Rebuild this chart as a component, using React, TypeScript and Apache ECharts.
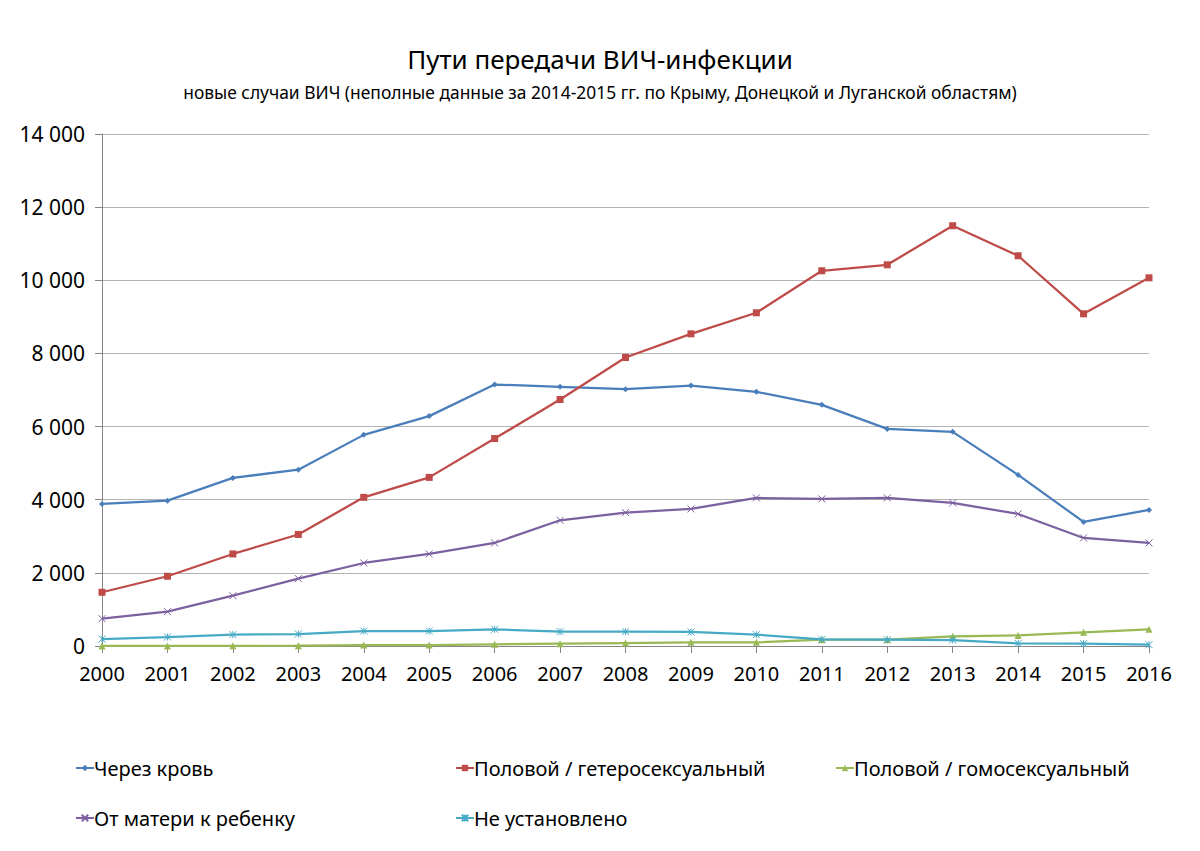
import React, { useEffect, useRef } from "react";
import * as echarts from "echarts";

const years = ["2000", "2001", "2002", "2003", "2004", "2005", "2006", "2007", "2008", "2009", "2010", "2011", "2012", "2013", "2014", "2015", "2016"];

const seriesNames = [
  "Через кровь",
  "Половой / гетеросексуальный",
  "Половой / гомосексуальный",
  "От матери к ребенку",
  "Не установлено",
];

const blood = [3885, 3975, 4596, 4822, 5773, 6286, 7150, 7086, 7023, 7122, 6950, 6594, 5937, 5855, 4679, 3393, 3721];
const hetero = [1469, 1907, 2517, 3050, 4065, 4610, 5672, 6739, 7888, 8536, 9111, 10260, 10424, 11491, 10670, 9083, 10068];
const homo = [2, 3, 5, 8, 27, 27, 46, 64, 82, 100, 100, 172, 172, 265, 290, 375, 457];
const mother = [748, 939, 1376, 1842, 2270, 2517, 2818, 3438, 3648, 3748, 4049, 4022, 4049, 3912, 3611, 2955, 2818];
const unknown = [190, 246, 310, 328, 410, 410, 457, 392, 392, 383, 310, 183, 172, 164, 73, 64, 36];

const yTicks = { min: 0, max: 14000, interval: 2000 };

const colors = ["#4a7ebb", "#be4b48", "#98b954", "#7d60a0", "#46aac5"];

const FONT = "'Noto Sans', sans-serif";

// stroked marker shapes: an "x" and an asterisk
const crossPath = "path://M0,0L10,10M10,0L0,10";
const starPath = "path://M0,0L10,10M10,0L0,10M5,0L5,10";

export default function App() {
  const ref = useRef<HTMLDivElement>(null);

  useEffect(() => {
    if (!ref.current) return;
    const chart = echarts.init(ref.current, undefined, { renderer: "svg" });

    const values = [blood, hetero, homo, mother, unknown];
    const symbols = ["diamond", "rect", "triangle", crossPath, starPath];
    const symbolSizes = [6, 7, 7, 7, 7];

    const series = values.map((data, i) => {
      const stroked = i >= 3;
      return {
        name: seriesNames[i],
        type: "line",
        data,
        symbol: symbols[i],
        symbolSize: symbolSizes[i],
        showSymbol: true,
        lineStyle: { color: colors[i], width: 2.25 },
        itemStyle: stroked
          ? { color: "rgba(0,0,0,0)", borderColor: colors[i], borderWidth: 1 }
          : { color: colors[i] },
        z: 2 + i,
      };
    });

    const legendPos = [
      { left: 75, top: 758 },
      { left: 455, top: 758 },
      { left: 835, top: 758 },
      { left: 75, top: 808 },
      { left: 455, top: 808 },
    ];

    const legends = seriesNames.map((name, i) => ({
      data: [name],
      left: legendPos[i].left,
      top: legendPos[i].top,
      itemWidth: 18,
      itemHeight: 8,
      itemGap: 0,
      padding: 0,
      textStyle: { fontFamily: FONT, fontSize: 20, color: "#000", padding: [0, 0, 0, -5] },
      selectedMode: false,
    }));

    chart.setOption({
      animation: false,
      backgroundColor: "#fff",
      title: [
        {
          text: "Пути передачи ВИЧ-инфекции",
          left: "center",
          top: 41,
          textStyle: { fontFamily: FONT, fontSize: 26, fontWeight: "normal", color: "#000" },
        },
        {
          text: "новые случаи ВИЧ (неполные данные за 2014-2015 гг. по Крыму, Донецкой и Луганской областям)",
          left: "center",
          top: 78,
          textStyle: { fontFamily: FONT, fontSize: 17.4, fontWeight: "normal", color: "#000" },
        },
      ],
      legend: legends,
      grid: { left: 102, right: 51, top: 134, bottom: 205, containLabel: false },
      xAxis: {
        type: "category",
        data: years,
        boundaryGap: false,
        axisLine: { lineStyle: { color: "#868686", width: 1 } },
        axisTick: { show: true, inside: false, length: 7, interval: 0, lineStyle: { color: "#868686" } },
        axisLabel: { interval: 0, margin: 17, fontFamily: FONT, fontSize: 20, color: "#000" },
        splitLine: { show: false },
      },
      yAxis: {
        type: "value",
        min: yTicks.min,
        max: yTicks.max,
        interval: yTicks.interval,
        axisLine: { show: true, lineStyle: { color: "#868686", width: 1 } },
        axisTick: { show: true, inside: false, length: 7, lineStyle: { color: "#868686" } },
        axisLabel: {
          margin: 17,
          fontFamily: FONT,
          fontSize: 21,
          color: "#000",
          formatter: (v: number) => {
            const s = String(v);
            return s.length > 3 ? s.slice(0, s.length - 3) + " " + s.slice(-3) : s;
          },
        },
        splitLine: { show: true, lineStyle: { color: "#b3b3b3", width: 1 } },
      },
      series,
    });

    return () => chart.dispose();
  }, []);

  return <div ref={ref} style={{ width: 1200, height: 851, margin: -8 }} />;
}
